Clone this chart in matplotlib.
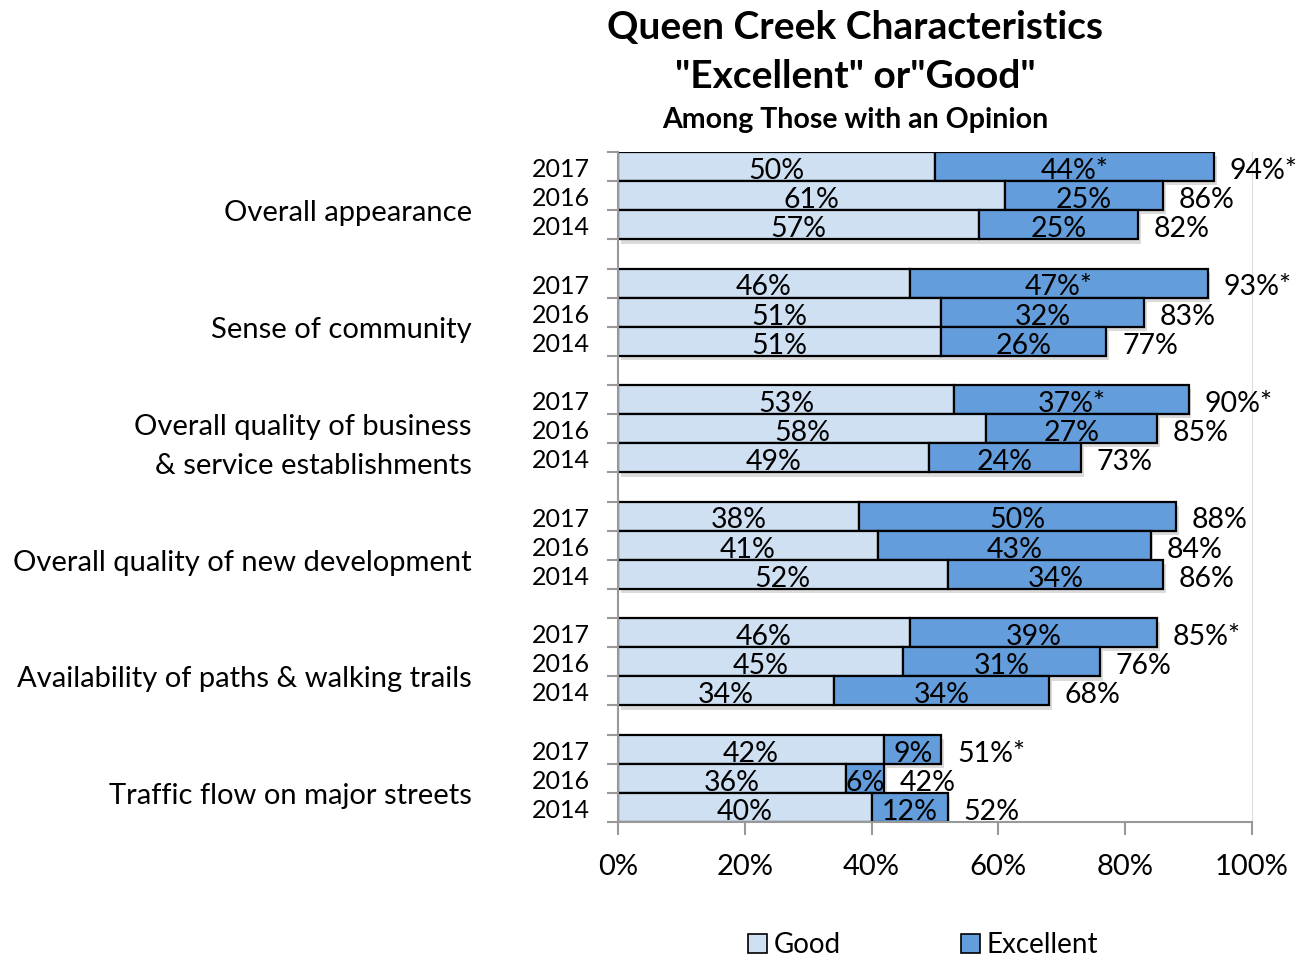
import matplotlib
matplotlib.use("Agg")
import matplotlib.pyplot as plt
import matplotlib.patheffects as pe
from matplotlib.patches import Patch
import matplotlib.transforms as mtransforms

plt.rcParams['font.family'] = ['Lato', 'DejaVu Sans']

categories = ["Overall appearance",
              "Sense of community",
              "Overall quality of business\n& service establishments",
              "Overall quality of new development",
              "Availability of paths & walking trails",
              "Traffic flow on major streets"]
years = ["2017", "2016", "2014"]

# good / excellent shares, rows ordered 2017, 2016, 2014 for each category
good = [[50, 61, 57],
        [46, 51, 51],
        [53, 58, 49],
        [38, 41, 52],
        [46, 45, 34],
        [42, 36, 40]]
excellent = [[44, 25, 25],
             [47, 32, 26],
             [37, 27, 24],
             [50, 43, 34],
             [39, 31, 34],
             [9, 6, 12]]
# significance markers on the 2017 rows
star_excellent = [True, True, True, False, False, False]
star_total = [True, True, True, False, True, True]

light = '#cfe0f3'
dark = '#639ddb'

fig = plt.figure(figsize=(13.06, 9.57), dpi=100)
ax = fig.add_axes([618 / 1306, 1 - 822 / 957, 634 / 1306, 670 / 957])

shadow = [pe.SimplePatchShadow(offset=(2, -3), shadow_rgbFace='#888888', alpha=0.3), pe.Normal()]

n_slots = len(categories) * 4 - 1
for ci in range(len(categories)):
    for yi in range(3):
        y = ci * 4 + yi + 0.5
        g = good[ci][yi]
        e = excellent[ci][yi]
        t = g + e
        ax.barh(y, g, height=1.0, color=light, edgecolor='black', linewidth=1.6,
                path_effects=shadow, zorder=2)
        ax.barh(y, e, left=g, height=1.0, color=dark, edgecolor='black', linewidth=1.6,
                path_effects=shadow, zorder=2)
        ax.text(g / 2, y + 0.15, f"{g}%", ha='center', va='center', fontsize=20.5, zorder=4)
        e_lab = f"{e}%" + ("*" if (yi == 0 and star_excellent[ci]) else "")
        ax.text(g + e / 2, y + 0.15, e_lab, ha='center', va='center', fontsize=20.5, zorder=4)
        t_lab = f"{t}%" + ("*" if (yi == 0 and star_total[ci]) else "")
        ax.text(t + 2.5, y + 0.15, t_lab, ha='left', va='center', fontsize=20.5, zorder=4)
        ax.text(-4.4, y + 0.1, years[yi], ha='right', va='center', fontsize=18)

# category names at the right edge of the label column
trans = mtransforms.blended_transform_factory(fig.transFigure, ax.transData)
for ci, name in enumerate(categories):
    ax.text(472 / 1306, ci * 4 + 2.1, name, transform=trans, ha='right', va='center',
            fontsize=21, linespacing=1.6)

ax.set_xlim(0, 100)
ax.set_ylim(n_slots, 0)
ax.set_xticks(range(0, 101, 20))
ax.set_xticklabels([f"{v}%" for v in range(0, 101, 20)], fontsize=21)
ax.set_yticks(range(0, n_slots + 1))
ax.set_yticklabels([])
ax.tick_params(axis='x', length=9, width=1.5, color='#999999', pad=14)
ax.tick_params(axis='y', length=8, width=1.5, color='#999999')
for side in ['left', 'bottom']:
    ax.spines[side].set_color('#999999')
    ax.spines[side].set_linewidth(1.5)
ax.spines['top'].set_visible(False)
ax.spines['right'].set_color('#dddddd')

fig.text(855 / 1306, 1 - 27 / 957, "Queen Creek Characteristics", ha='center', va='center',
         fontsize=28, fontweight='bold')
fig.text(855 / 1306, 1 - 76 / 957, '"Excellent" or"Good"', ha='center', va='center',
         fontsize=28, fontweight='bold')
fig.text(855 / 1306, 1 - 120 / 957, "Among Those with an Opinion", ha='center', va='center',
         fontsize=20.5, fontweight='bold')

handles = [Patch(facecolor=light, edgecolor='black', linewidth=1.2, label='Good'),
           Patch(facecolor=dark, edgecolor='black', linewidth=1.2, label='Excellent')]
fig.legend(handles=handles, loc='center', bbox_to_anchor=(923 / 1306, 1 - 945 / 957), ncol=2,
           frameon=False, fontsize=20, handlelength=0.7, handleheight=0.7,
           handletextpad=0.25, columnspacing=4.3)

fig.savefig("out.png", dpi=100)
